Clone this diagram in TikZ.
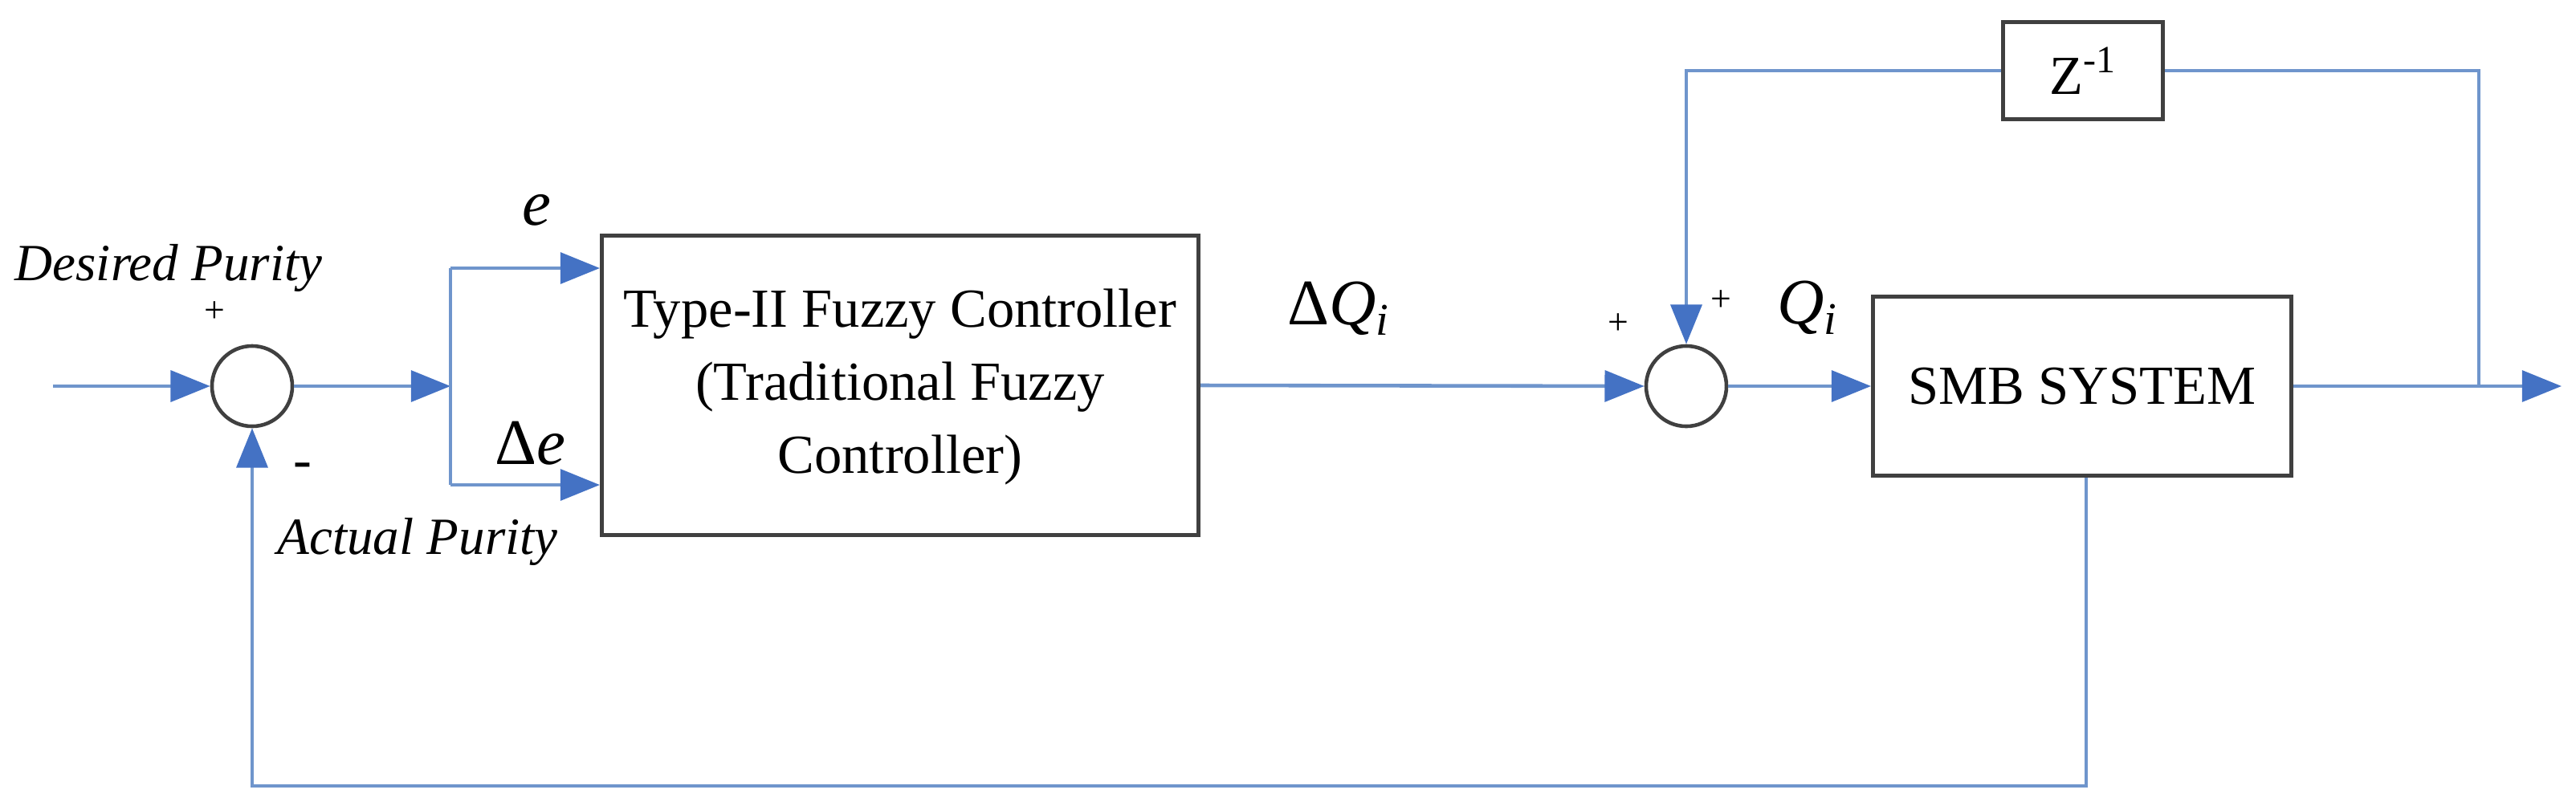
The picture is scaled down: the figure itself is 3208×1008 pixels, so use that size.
\documentclass[tikz,border=0pt]{standalone}
\usepackage{fontspec}
\setmainfont{Liberation Serif}
\usetikzlibrary{arrows.meta}
\definecolor{ln}{HTML}{6F95CC}
\definecolor{ar}{HTML}{4472C4}
\begin{document}
\begin{tikzpicture}[x=0.01cm,y=-0.01cm,
  wire/.style={draw=ln,line width=1.3pt},
  arr/.style={wire,-{Triangle[length=14pt,width=11pt,fill=ar,color=ar]}},
  blk/.style={draw=black!75,line width=1.3pt,rectangle,inner sep=0pt},
  sum/.style={draw=black!75,line width=1.3pt,circle,minimum size=1cm,inner sep=0pt},
  lab/.style={font=\fontsize{19.5}{26}\selectfont},
  big/.style={font=\fontsize{23}{26}\selectfont},
  ilab/.style={font=\fontsize{18.5}{20}\selectfont\itshape},
  sgn/.style={font=\fontsize{13}{14}\selectfont}]
\useasboundingbox (0,0) rectangle (3208,1008);
\node[sum] (s1) at (314,481) {};
\node[sum] (s2) at (2100,481) {};
\node[blk,minimum width=7.43cm,minimum height=3.73cm] (fc) at (1121,480) {};
\node[lab,align=center] at (1121,482) {Type-II Fuzzy Controller\\(Traditional Fuzzy\\Controller)};
\node[blk,minimum width=5.21cm,minimum height=2.23cm] (smb) at (2593,481) {};
\node[lab] at (2593,481) {SMB SYSTEM};
\node[blk,minimum width=1.99cm,minimum height=1.21cm] (z) at (2594,88) {};
\node[lab] at (2594,88) {Z\textsuperscript{-1}};
\coordinate (in) at (66,481);
\coordinate (br) at (561,481);
\coordinate (bt) at (561,334);
\coordinate (bb) at (561,604);
\coordinate (tp) at (3087,481);
\coordinate (out) at (3190,481);
\coordinate (fb) at (2598,979);
\draw[arr] (in) -- (s1.west);
\draw[arr] (s1.east) -- (br);
\draw[wire] (bb) -- (bt);
\draw[arr] (bt) -- (bt -| fc.west);
\draw[arr] (bb) -- (bb -| fc.west);
\draw[arr] (fc.east) -- (s2.west);
\draw[arr] (s2.east) -- (smb.west);
\draw[arr] (smb.east) -- (out);
\draw[wire] (tp) |- (z.east);
\draw[arr] (z.west) -| (s2.north);
\draw[arr] (smb.south -| fb) -- (fb) -| (s1.south);
\node[ilab] at (210,334) {Desired Purity};
\node[ilab] at (520,675) {Actual Purity};
\node[sgn] at (267,389) {+};
\node[lab] at (377,586) {-};
\node[big] at (668,262) {\textit{e}};
\node[big] at (660,552) {Δ\textit{e}};
\node[big] at (1667,384) {Δ\textit{Q\textsubscript{i}}};
\node[big] at (2251,383) {\textit{Q\textsubscript{i}}};
\node[sgn] at (2015,404) {+};
\node[sgn] at (2143,375) {+};
\end{tikzpicture}
\end{document}
